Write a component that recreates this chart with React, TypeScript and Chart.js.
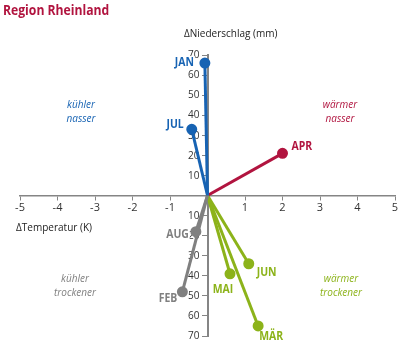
import React, { useEffect, useRef } from "react";
import { Chart, registerables } from "chart.js";

Chart.register(...registerables);

// ---- data ----
const months = ["JAN", "FEB", "MÄR", "APR", "MAI", "JUN", "JUL", "AUG"];
const tempDelta = [-0.07, -0.67, 1.35, 2.0, 0.6, 1.1, -0.42, -0.31];
const precipDelta = [66, -48, -65, 21, -39, -34, 33, -18];
const xTicks = [-5, -4, -3, -2, -1, 0, 1, 2, 3, 4, 5];
const yTicks = [-70, -60, -50, -40, -30, -20, -10, 0, 10, 20, 30, 40, 50, 60, 70];

// ---- styles ----
const BLUE = "#1763b3";
const RED = "#b1143f";
const GREEN = "#8cb31a";
const GRAY = "#808080";
const AXIS = "#858585";
const monthColor: Record<string, string> = {
  JAN: BLUE, JUL: BLUE, APR: RED, FEB: GRAY, AUG: GRAY, MÄR: GREEN, MAI: GREEN, JUN: GREEN,
};
const labelOffset: Record<string, [number, number, CanvasTextAlign]> = {
  JAN: [-11, 0, "right"],
  JUL: [-8, -5, "right"],
  APR: [9, -7, "left"],
  AUG: [-7, 3, "right"],
  FEB: [-5, 7, "right"],
  MAI: [-7, 16, "center"],
  JUN: [8, 9, "left"],
  MÄR: [1, 11, "left"],
};
const FONT = "'Open Sans', sans-serif";
const SX = 0.87;

function text(ctx: any, s: string, x: number, y: number, align: CanvasTextAlign, bg = false) {
  ctx.save();
  ctx.translate(x, y);
  ctx.scale(SX, 1);
  ctx.textAlign = align;
  if (bg) {
    const w = ctx.measureText(s).width;
    const x0 = align === "right" ? -w : align === "center" ? -w / 2 : 0;
    const f = ctx.fillStyle;
    ctx.fillStyle = "#fff";
    ctx.fillRect(x0 - 1, -7, w + 2, 14);
    ctx.fillStyle = f;
  }
  ctx.fillText(s, 0, 0);
  ctx.restore();
}

const annotations = {
  id: "annotations",
  beforeDatasetsDraw(chart: any) {
    const ctx = chart.ctx;
    ctx.save();
    ctx.textBaseline = "middle";
    // y tick labels (absolute values), placed via the y scale
    const ys = chart.scales.y;
    const axX = chart.scales.x.getPixelForValue(0);
    ctx.font = `11.5px ${FONT}`;
    ctx.fillStyle = "#333";
    yTicks.forEach((v) => {
      if (v === 0) return;
      text(ctx, String(Math.abs(v)), axX - 8, ys.getPixelForValue(v), "right");
    });
    // month labels, computed from the points through the scales
    months.forEach((m, i) => {
      const px = chart.scales.x.getPixelForValue(tempDelta[i]);
      const py = ys.getPixelForValue(precipDelta[i]);
      const [dx, dy, align] = labelOffset[m];
      ctx.font = `bold 12px ${FONT}`;
      ctx.fillStyle = monthColor[m];
      text(ctx, m, px + dx, py + dy, align, true);
    });
    ctx.restore();
  },
  afterDatasetsDraw(chart: any) {
    const ctx = chart.ctx;
    ctx.save();
    ctx.textBaseline = "middle";
    // title
    ctx.font = `bold 14px ${FONT}`;
    ctx.fillStyle = RED;
    text(ctx, "Region Rheinland", 3, 11, "left");
    // axis titles
    ctx.font = `11.5px ${FONT}`;
    ctx.fillStyle = "#222";
    text(ctx, "\u0394Niederschlag (mm)", 184, 34, "left");
    text(ctx, "\u0394Temperatur (K)", 16, 228, "left");
    // quadrant labels
    ctx.font = `italic 11.5px ${FONT}`;
    const quad: [string, string, string, number, number][] = [
      ["kühler", "nasser", BLUE, 81, 105],
      ["wärmer", "nasser", RED, 340, 105],
      ["kühler", "trockener", GRAY, 75, 279],
      ["wärmer", "trockener", GREEN, 341, 279],
    ];
    quad.forEach(([a, b, c, x, y]) => {
      ctx.fillStyle = c;
      text(ctx, a, x, y, "center");
      text(ctx, b, x, y + 14, "center");
    });
    ctx.restore();
  },
};

export default function App() {
  const ref = useRef<HTMLCanvasElement>(null);
  useEffect(() => {
    const datasets = months.map((m, i) => ({
      label: m,
      data: [
        { x: 0, y: 0 },
        { x: tempDelta[i], y: precipDelta[i] },
      ],
      showLine: true,
      borderColor: monthColor[m],
      backgroundColor: monthColor[m],
      pointBackgroundColor: monthColor[m],
      pointBorderColor: monthColor[m],
      borderWidth: 3,
      pointRadius: [0, 4],
      pointHoverRadius: [0, 4],
    }));
    const chart = new Chart(ref.current!, {
      type: "scatter",
      data: { datasets },
      plugins: [annotations],
      options: {
        animation: false,
        responsive: false,
        maintainAspectRatio: false,
        layout: { padding: { left: 20, right: 21, top: 55, bottom: 20 } },
        plugins: { legend: { display: false }, tooltip: { enabled: false } },
        scales: {
          x: {
            type: "linear",
            min: -5,
            max: 5,
            position: { y: 0 } as any,
            afterBuildTicks: (s: any) => {
              s.ticks = xTicks.map((v) => ({ value: v }));
            },
            ticks: {
              callback: (v: any) => (v === 0 ? "" : String(v)),
              color: "#333",
              font: { family: FONT, size: 11 },
              padding: 2,
              maxRotation: 0,
            },
            grid: { drawOnChartArea: false, drawTicks: true, tickLength: 4, color: AXIS, lineWidth: 1 },
            border: { color: AXIS, width: 1.5 },
          },
          y: {
            type: "linear",
            min: -70,
            max: 70,
            position: { x: 0 } as any,
            afterBuildTicks: (s: any) => {
              s.ticks = yTicks.map((v) => ({ value: v }));
            },
            ticks: { display: false },
            grid: { drawOnChartArea: false, drawTicks: true, tickLength: 5, color: AXIS, lineWidth: 1 },
            border: { color: AXIS, width: 2 },
          },
        },
      },
    });
    return () => chart.destroy();
  }, []);
  return (
    <div style={{ position: "fixed", left: 0, top: 0, width: 416, height: 356, background: "#fff" }}>
      <canvas ref={ref} width={416} height={356} style={{ width: 416, height: 356 }} />
    </div>
  );
}
